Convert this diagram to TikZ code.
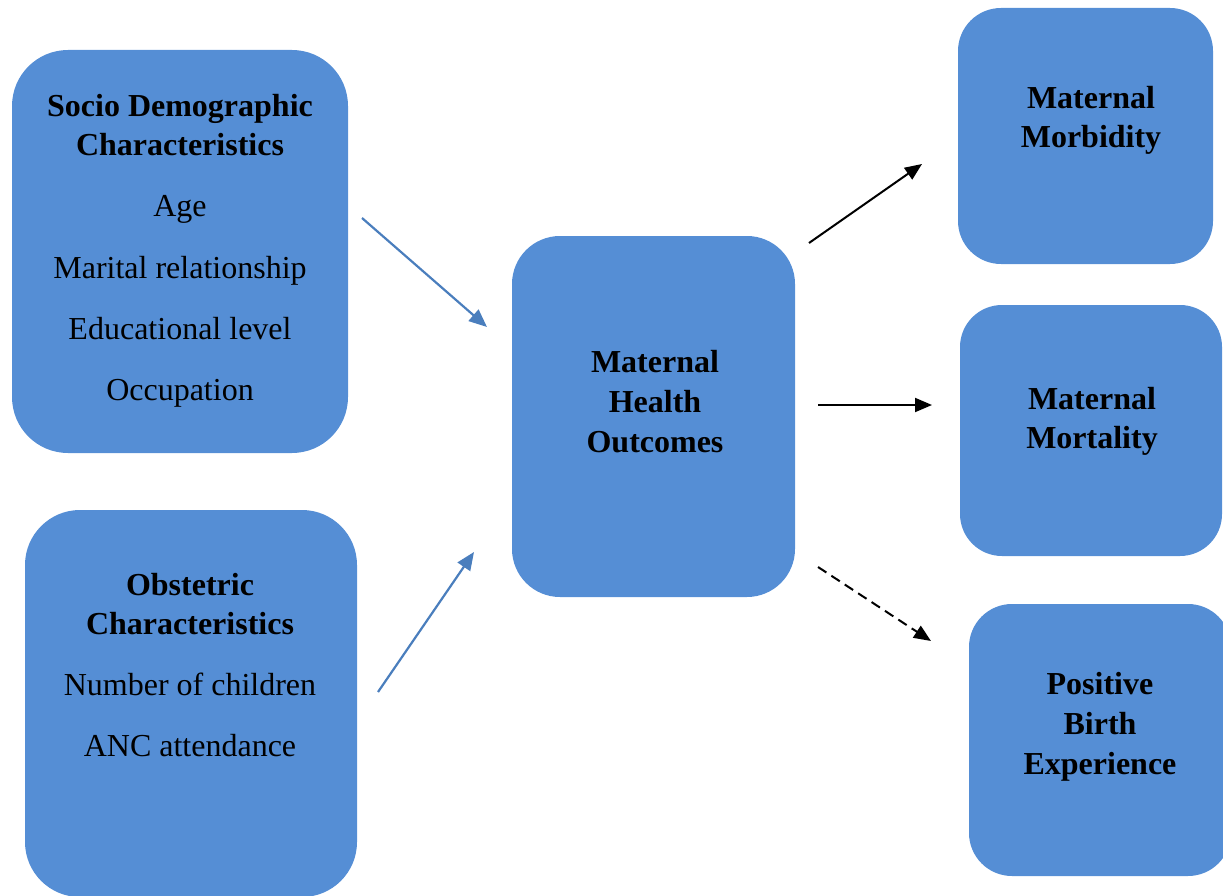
\documentclass[tikz,border=0pt]{standalone}
\usepackage{fontspec}
\setmainfont{Liberation Serif}
\usetikzlibrary{arrows.meta}
\definecolor{boxfill}{RGB}{85,142,213}
\definecolor{arrowblue}{RGB}{74,126,189}
\tikzset{
  box/.style={rectangle, fill=boxfill, draw=none, inner sep=0pt},
  ttl/.style={anchor=base, inner sep=0pt, font=\fontsize{32}{40}\selectfont\bfseries},
  itm/.style={anchor=base, inner sep=0pt, font=\fontsize{32}{40}\selectfont},
  bluearrow/.style={draw=arrowblue, line width=2.2pt, -{Triangle[length=18pt,width=15pt]}},
  blackarrow/.style={draw=black, line width=2pt, -{Triangle[length=17pt,width=14pt]}},
}
\begin{document}
\begin{tikzpicture}[x=1pt,y=-1pt]
\useasboundingbox (0,0) rectangle (1223,896);
\clip (0,0) rectangle (1223,896);
% boxes
\node[box, rounded corners=56pt, minimum width=336pt, minimum height=403pt] (soc) at (180,251.5) {};
\node[box, rounded corners=55pt, minimum width=332pt, minimum height=387pt] (obs) at (191,703.5) {};
\node[box, rounded corners=48pt, minimum width=283pt, minimum height=361pt] (mho) at (653.5,416.5) {};
\node[box, rounded corners=43pt, minimum width=255pt, minimum height=256pt] (morb) at (1085.5,136) {};
\node[box, rounded corners=42pt, minimum width=262pt, minimum height=251pt] (mort) at (1091,430.5) {};
\node[box, rounded corners=43pt, minimum width=262pt, minimum height=272pt] (pbe) at (1100,740) {};
% texts
\node[ttl] (t1) at (180,117) {Socio Demographic};
\node[ttl] (t2) at (180,156) {Characteristics};
\node[itm] (t3) at (180,217) {Age};
\node[itm] (t4) at (180,278) {Marital relationship};
\node[itm] (t5) at (180,339) {Educational level};
\node[itm] (t6) at (180,400) {Occupation};
\node[ttl] (o1) at (190,595) {Obstetric};
\node[ttl] (o2) at (190,634) {Characteristics};
\node[itm] (o3) at (190,695) {Number of children};
\node[itm] (o4) at (190,756) {ANC attendance};
\node[ttl] (m1) at (655,372) {Maternal};
\node[ttl] (m2) at (655,412) {Health};
\node[ttl] (m3) at (655,452) {Outcomes};
\node[ttl] (d1) at (1091,109) {Maternal};
\node[ttl] (d2) at (1091,148) {Morbidity};
\node[ttl] (e1) at (1092,409) {Maternal};
\node[ttl] (e2) at (1092,448) {Mortality};
\node[ttl] (f1) at (1100,694) {Positive};
\node[ttl] (f2) at (1100,734) {Birth};
\node[ttl] (f3) at (1100,774) {Experience};
% connector end points
\coordinate (a1s) at (362,218);
\coordinate (a1e) at (487,327);
\coordinate (a2s) at (378,692);
\coordinate (a2e) at (474,552);
\coordinate (a3s) at (809,243);
\coordinate (a3e) at (922,164);
\coordinate (a4s) at (818,405);
\coordinate (a4e) at (932,405);
\coordinate (a5s) at (818,567);
\coordinate (a5e) at (931,641);
% connectors
\draw[bluearrow] (a1s) -- (a1e);
\draw[bluearrow] (a2s) -- (a2e);
\draw[blackarrow] (a3s) -- (a3e);
\draw[blackarrow] (a4s) -- (a4e);
\draw[blackarrow, dash pattern=on 10pt off 6pt] (a5s) -- (a5e);
\end{tikzpicture}
\end{document}
